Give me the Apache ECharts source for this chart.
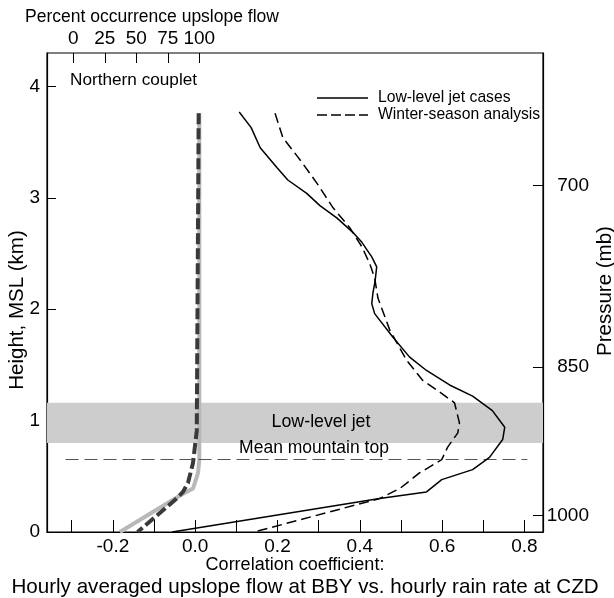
<!DOCTYPE html>
<html>
<head>
<meta charset="utf-8">
<script src="https://cdn.jsdelivr.net/npm/echarts@6/dist/echarts.min.js"></script>
<style>
  html, body { margin: 0; padding: 0; background: #fff; }
  #chart { width: 614px; height: 598px; }
</style>
</head>
<body>
<div id="chart"></div>
<script>
// Correlation profiles (correlation coefficient, height in km MSL), top to bottom
const jetCorr   = [0.107, 0.136, 0.158, 0.199, 0.225, 0.271, 0.303, 0.344, 0.383, 0.405, 0.429, 0.441, 0.437, 0.432, 0.429, 0.436, 0.480, 0.521, 0.562, 0.618, 0.674, 0.722, 0.752, 0.747, 0.715, 0.674, 0.599, 0.562, 0.448, -0.056];
const jetHeight = [3.77, 3.63, 3.45, 3.27, 3.16, 3.04, 2.93, 2.82, 2.69, 2.60, 2.47, 2.38, 2.25, 2.15, 2.05, 1.96, 1.75, 1.57, 1.45, 1.32, 1.22, 1.09, 0.94, 0.83, 0.67, 0.56, 0.47, 0.36, 0.30, 0.0];

const winterCorr   = [0.194, 0.213, 0.255, 0.296, 0.335, 0.376, 0.405, 0.424, 0.436, 0.444, 0.473, 0.514, 0.553, 0.589, 0.630, 0.642, 0.638, 0.613, 0.599, 0.545, 0.497, 0.448, 0.143];
const winterHeight = [3.76, 3.54, 3.34, 3.13, 2.91, 2.73, 2.56, 2.41, 2.28, 2.10, 1.81, 1.54, 1.36, 1.27, 1.16, 0.98, 0.89, 0.76, 0.65, 0.53, 0.39, 0.30, 0.0];

// Percent occurrence of upslope flow (percent, height in km MSL)
const jetPctValue    = [100, 100, 99, 95, 85, 37];
const jetPctHeight   = [3.76, 0.65, 0.53, 0.39, 0.33, 0.0];
const winterPctValue  = [99.5, 98, 95, 91, 87, 82, 51];
const winterPctHeight = [3.76, 0.91, 0.62, 0.44, 0.36, 0.30, 0.0];

// Axis ranges, ticks and labels
const corrMin = -0.36, corrMax = 0.845;
const heightMax = 4.3;
const corrTicks   = [-0.3, -0.2, -0.1, 0, 0.1, 0.2, 0.3, 0.4, 0.5, 0.6, 0.7, 0.8];
const corrLabels  = [-0.2, 0, 0.2, 0.4, 0.6, 0.8];
const heightTicks = [0, 1, 2, 3, 4];
const pressureLabels  = ['700', '850', '1000'];
const pressureHeights = [3.11, 1.48, 0.15];

// Reference features
const jetLayer = [0.80, 1.16];          // low-level jet band (km)
const mountainTop = 0.655;               // mean mountain-top height (km)
const mountainTopSpan = [-0.315, 0.807]; // horizontal extent of the reference line

const zip = (a, b) => a.map((v, i) => [v, b[i]]);

const FONT = '"Liberation Sans", Arial, sans-serif';
const txt = (text, x, y, size, extra, align) => Object.assign({
  type: 'text', x: x, y: y, z: 10,
  style: { text: text, font: size + 'px ' + FONT, fill: '#000', align: align || 'center', verticalAlign: 'middle' }
}, extra || {});

const chart = echarts.init(document.getElementById('chart'), null, { renderer: 'canvas' });

const option = {
  backgroundColor: '#fff',
  animation: false,
  textStyle: { fontFamily: FONT, color: '#000' },
  grid: [
    { left: 47, top: 53, width: 496, height: 479, show: true, borderColor: '#000', borderWidth: 1.2, backgroundColor: 'transparent' },
    { left: 73.3, top: 53, width: 126, height: 479 }
  ],
  xAxis: [
    {
      gridIndex: 0, type: 'value', position: 'bottom', min: corrMin, max: corrMax,
      axisLine: { show: true, onZero: false, lineStyle: { color: '#000', width: 1.2 } },
      axisTick: { show: true, inside: true, length: 12, customValues: corrTicks, lineStyle: { color: '#000', width: 1 } },
      axisLabel: { customValues: corrLabels, margin: 5, fontSize: 19, color: '#000', fontFamily: FONT, formatter: v => v.toFixed(1) },
      splitLine: { show: false }
    },
    {
      gridIndex: 1, type: 'value', position: 'top', min: 0, max: 100, interval: 25,
      axisLine: { show: false, onZero: false },
      axisTick: { show: true, inside: true, length: 10, lineStyle: { color: '#000', width: 1 } },
      axisLabel: { margin: 5, fontSize: 19, color: '#000', fontFamily: FONT },
      splitLine: { show: false }
    }
  ],
  yAxis: [
    {
      gridIndex: 0, type: 'value', position: 'left', min: 0, max: heightMax,
      axisLine: { show: true, onZero: false, lineStyle: { color: '#000', width: 1.2 } },
      axisTick: { show: true, inside: true, length: 9, customValues: heightTicks, lineStyle: { color: '#000', width: 1 } },
      axisLabel: { customValues: heightTicks, margin: 7, fontSize: 19, color: '#000', fontFamily: FONT },
      splitLine: { show: false }
    },
    {
      gridIndex: 0, type: 'value', position: 'right', min: 0, max: heightMax,
      axisLine: { show: true, onZero: false, lineStyle: { color: '#000', width: 1.2 } },
      axisTick: { show: true, inside: true, length: 10, customValues: pressureHeights, lineStyle: { color: '#000', width: 1 } },
      axisLabel: {
        customValues: pressureHeights, margin: 46, align: 'right', fontSize: 19, color: '#000', fontFamily: FONT,
        formatter: v => {
          const i = pressureHeights.findIndex(h => Math.abs(h - v) < 1e-6);
          return i >= 0 ? pressureLabels[i] : '';
        }
      },
      splitLine: { show: false }
    },
    { gridIndex: 1, type: 'value', min: 0, max: heightMax, show: false }
  ],
  series: [
    {
      name: 'Jet percent', type: 'line', xAxisIndex: 1, yAxisIndex: 2,
      data: zip(jetPctValue, jetPctHeight), showSymbol: false, symbol: 'none', clip: false,
      lineStyle: { color: '#b8b8b8', width: 4 }, z: 3
    },
    {
      name: 'Winter percent', type: 'line', xAxisIndex: 1, yAxisIndex: 2,
      data: zip(winterPctValue, winterPctHeight), showSymbol: false, symbol: 'none', clip: false,
      lineStyle: { color: '#3a3a3a', width: 4, type: [11, 4] }, z: 4
    },
    {
      name: 'Low-level jet cases', type: 'line', xAxisIndex: 0, yAxisIndex: 0,
      data: zip(jetCorr, jetHeight), showSymbol: false, symbol: 'none',
      lineStyle: { color: '#000', width: 1.5 }, z: 5,
      markArea: {
        silent: true,
        itemStyle: { color: '#cdcdcd' },
        label: { show: false },
        data: [[{ coord: [corrMin, jetLayer[0]] }, { coord: [corrMax, jetLayer[1]] }]]
      }
    },
    {
      name: 'Winter-season analysis', type: 'line', xAxisIndex: 0, yAxisIndex: 0,
      data: zip(winterCorr, winterHeight), showSymbol: false, symbol: 'none',
      lineStyle: { color: '#000', width: 1.5, type: [10, 5] }, z: 5,
      markLine: {
        silent: true, symbol: 'none', label: { show: false },
        lineStyle: { color: '#555', width: 1.2, type: [13, 6] },
        data: [[{ coord: [mountainTopSpan[0], mountainTop] }, { coord: [mountainTopSpan[1], mountainTop] }]]
      }
    }
  ],
  graphic: [
    txt('Percent occurrence upslope flow', 152, 17, 17.5),
    txt('Northern couplet', 70, 80, 17.2, null, 'left'),
    txt('Low-level jet', 321, 422, 17.8),
    txt('Mean mountain top', 314, 448, 17.5),
    txt('Correlation coefficient:', 295, 565, 18),
    txt('Hourly averaged upslope flow at BBY vs. hourly rain rate at CZD', 305, 587, 20.6),
    txt('Height, MSL (km)', 17, 310, 20.5, { rotation: Math.PI / 2 }),
    txt('Pressure (mb)', 605, 291, 20.5, { rotation: Math.PI / 2 }),
    // legend
    { type: 'line', z: 10, shape: { x1: 317, y1: 98, x2: 368, y2: 98 }, style: { stroke: '#000', lineWidth: 1.5 } },
    { type: 'line', z: 10, shape: { x1: 317, y1: 115, x2: 368, y2: 115 }, style: { stroke: '#000', lineWidth: 1.5, lineDash: [10, 4] } },
    txt('Low-level jet cases', 378, 98, 15.7, null, 'left'),
    txt('Winter-season analysis', 378, 115, 15.7, null, 'left')
  ]
};

chart.setOption(option);
</script>
</body>
</html>
